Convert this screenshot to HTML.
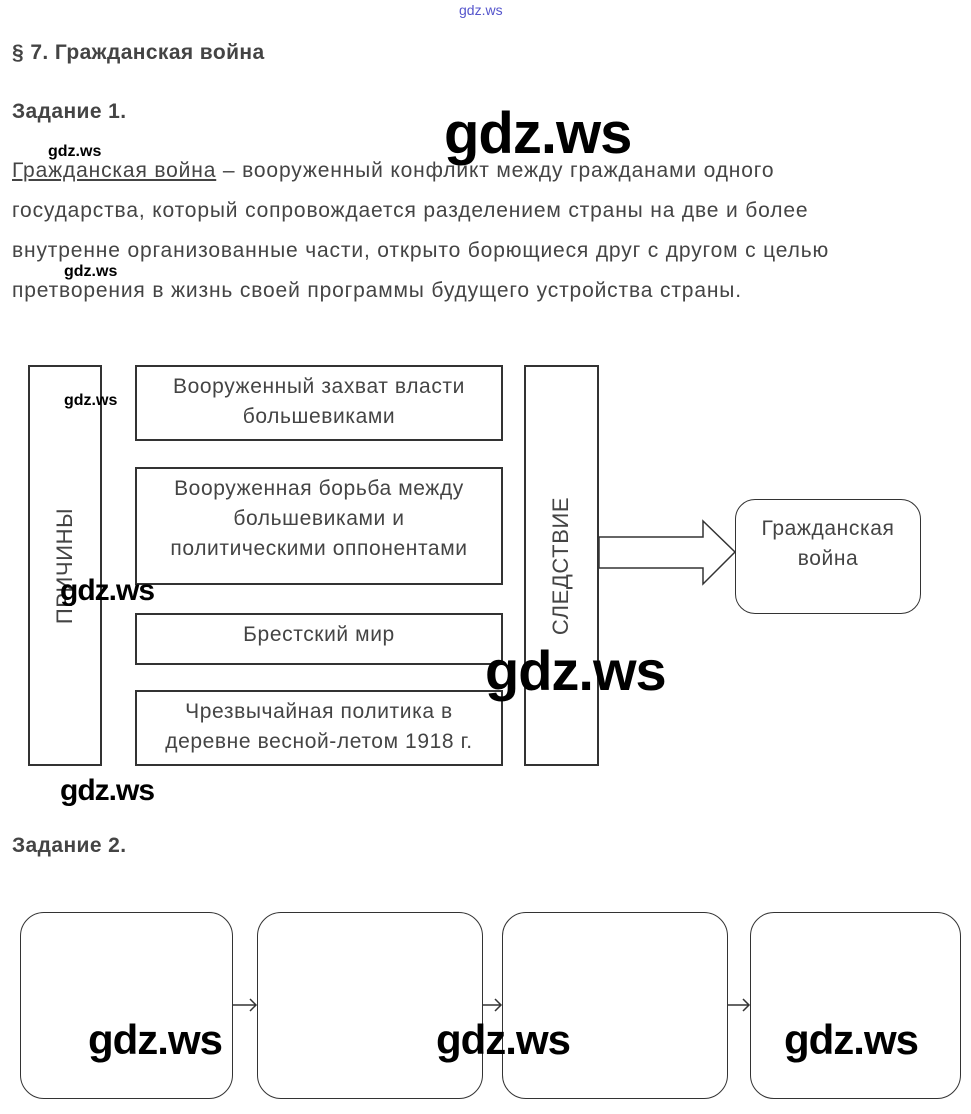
<!DOCTYPE html>
<html><head><meta charset="utf-8"><style>
body{margin:0;width:971px;height:1114px;background:#fff;position:relative;overflow:hidden;font-family:"Liberation Sans",sans-serif;color:#444}
.a{position:absolute}
.h{font-weight:bold;font-size:21px;letter-spacing:0.4px}
.p{font-size:21px;left:12px;white-space:nowrap;letter-spacing:0.85px}
.b{position:absolute;border:2px solid #333;box-sizing:border-box;display:flex;align-items:center;justify-content:center;text-align:center;font-size:21px;letter-spacing:0.6px;line-height:30px;color:#444}
.w{position:absolute;font-family:"Liberation Sans",sans-serif;color:#000;font-weight:bold}
.s{font-size:16px}
.L{letter-spacing:-1px}
.r{border-radius:24px;border:1.5px solid #333}
</style></head><body>
<div class="a" style="left:459px;top:2px;font-size:14px;color:#55c">gdz.ws</div>
<div class="a h" style="left:12px;top:41px">§ 7. Гражданская война</div>
<div class="a h" style="left:12px;top:100px">Задание 1.</div>
<div class="a p" style="top:159px"><span style="text-decoration:underline">Гражданская война</span> – вооруженный конфликт между гражданами одного</div>
<div class="a p" style="top:199px">государства, который сопровождается разделением страны на две и более</div>
<div class="a p" style="top:239px">внутренне организованные части, открыто борющиеся друг с другом с целью</div>
<div class="a p" style="top:279px">претворения в жизнь своей программы будущего устройства страны.</div>

<div class="b" style="left:28px;top:365px;width:74px;height:401px"><span style="transform:rotate(-90deg);white-space:nowrap;font-size:22px">ПРИЧИНЫ</span></div>
<div class="b" style="left:524px;top:365px;width:75px;height:401px"><span style="transform:rotate(-90deg);white-space:nowrap;font-size:22px">СЛЕДСТВИЕ</span></div>
<div class="b" style="left:135px;top:365px;width:368px;height:76px;align-items:flex-start;padding-top:5px">Вооруженный захват власти<br>большевиками</div>
<div class="b" style="left:135px;top:467px;width:368px;height:118px;align-items:flex-start;padding-top:5px">Вооруженная борьба между<br>большевиками и<br>политическими оппонентами</div>
<div class="b" style="left:135px;top:613px;width:368px;height:52px;align-items:flex-start;padding-top:5px">Брестский мир</div>
<div class="b" style="left:135px;top:690px;width:368px;height:76px;align-items:flex-start;padding-top:5px">Чрезвычайная политика в<br>деревне весной-летом 1918 г.</div>
<div class="b" style="left:735px;top:499px;width:186px;height:115px;border-radius:20px;border-width:1.5px;align-items:flex-start;padding-top:14px">Гражданская<br>война</div>
<svg class="a" style="left:0;top:0" width="971" height="1114">
<polygon points="599,537 703,537 703,521 735,552 703,584 703,568 599,568" fill="#fff" stroke="#333" stroke-width="1.5"/>
<g stroke="#333" stroke-width="1.5" fill="none">
<line x1="233" y1="1005" x2="256" y2="1005"/><polyline points="250,999 256,1005 250,1011"/>
<line x1="483" y1="1005" x2="501" y2="1005"/><polyline points="495,999 501,1005 495,1011"/>
<line x1="728" y1="1005" x2="749" y2="1005"/><polyline points="743,999 749,1005 743,1011"/>
</g></svg>
<div class="a h" style="left:12px;top:834px">Задание 2.</div>
<div class="b r" style="left:20px;top:912px;width:213px;height:187px"></div>
<div class="b r" style="left:257px;top:912px;width:226px;height:187px"></div>
<div class="b r" style="left:502px;top:912px;width:226px;height:187px"></div>
<div class="b r" style="left:750px;top:912px;width:211px;height:187px"></div>

<div class="w L" style="left:444px;top:100px;font-size:58px">gdz.ws</div>
<div class="w s" style="left:48px;top:143px">gdz.ws</div>
<div class="w s" style="left:64px;top:263px">gdz.ws</div>
<div class="w s" style="left:64px;top:392px">gdz.ws</div>
<div class="w L" style="left:60px;top:574px;font-size:30px">gdz.ws</div>
<div class="w L" style="left:485px;top:638px;font-size:56px">gdz.ws</div>
<div class="w L" style="left:60px;top:774px;font-size:30px">gdz.ws</div>
<div class="w L" style="left:88px;top:1016px;font-size:42px">gdz.ws</div>
<div class="w L" style="left:436px;top:1016px;font-size:42px">gdz.ws</div>
<div class="w L" style="left:784px;top:1016px;font-size:42px">gdz.ws</div>
</body></html>
